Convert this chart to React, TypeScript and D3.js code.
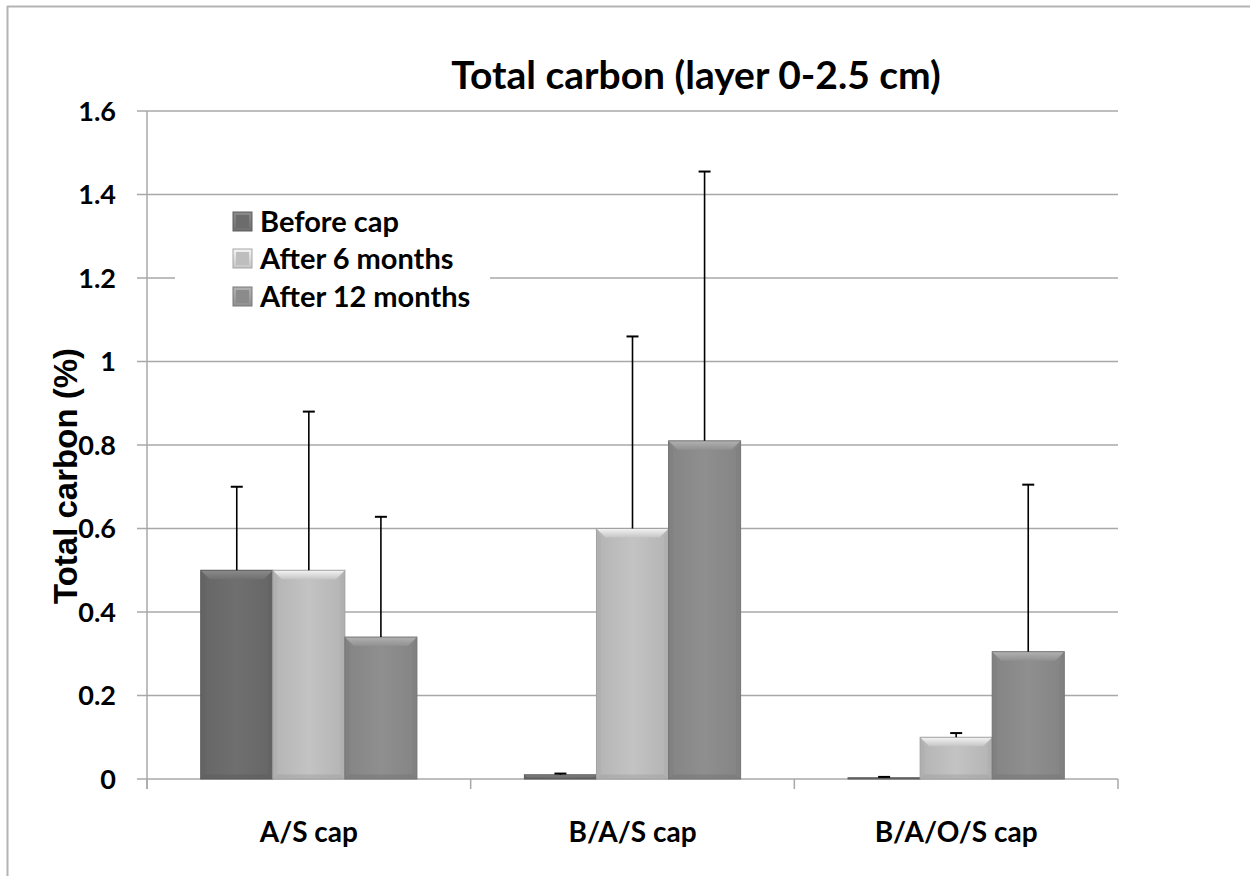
import React from "react";
import * as d3 from "d3";

const categories = ["A/S cap", "B/A/S cap", "B/A/O/S cap"];
const seriesNames = ["Before cap", "After 6 months", "After 12 months"];
const beforeCap = [0.5, 0.01, 0.003];
const after6 = [0.5, 0.6, 0.1];
const after12 = [0.34, 0.81, 0.305];
const errBefore = [0.2, 0.003, 0.002];
const errAfter6 = [0.38, 0.46, 0.01];
const errAfter12 = [0.288, 0.645, 0.4];
const yTicks = [0, 0.2, 0.4, 0.6, 0.8, 1, 1.2, 1.4, 1.6];
const seriesColors = ["#6c6c6c", "#bebebe", "#8b8b8b"];

const W = 1254;
const H = 876;
const left = 147;
const right = 1118;
const top = 111;
const bottom = 779;

export default function App() {
  const values = [beforeCap, after6, after12];
  const errs = [errBefore, errAfter6, errAfter12];
  const y = d3.scaleLinear().domain([0, 1.6]).range([bottom, top]);
  const x0 = d3.scaleBand<string>().domain(categories).range([left, right]).padding(0);
  const bw = x0.bandwidth();
  const x1 = d3
    .scaleBand<string>()
    .domain(seriesNames)
    .range([bw * 0.166, bw * 0.834])
    .padding(0);
  const barW = x1.bandwidth();
  const gridColor = "#a8a8a8";
  const font = "Lato, 'Open Sans', sans-serif";

  const bars: React.ReactNode[] = [];
  const errBars: React.ReactNode[] = [];
  categories.forEach((c, ci) => {
    seriesNames.forEach((s, si) => {
      const v = values[si][ci];
      const e = errs[si][ci];
      const bx = (x0(c) as number) + (x1(s) as number);
      const by = y(v);
      const bh = bottom - by;
      const base = d3.color(seriesColors[si])!;
      const dark = base.darker(0.25).formatHex();
      const darker = base.darker(0.45).formatHex();
      const b = Math.min(9, bh / 2);
      const x2 = bx + barW;
      bars.push(
        <g key={`b-${ci}-${si}`}>
          <rect x={bx} y={by} width={barW} height={bh} fill={`url(#grad${si})`} />
          {bh > 2 && (
            <>
              <polygon
                points={`${bx},${by} ${x2},${by} ${x2 - b},${by + b} ${bx + b},${by + b}`}
                fill={`url(#top${si})`}
              />
              <polygon
                points={`${bx},${by} ${bx + b * 0.5},${by + b} ${bx + b * 0.5},${bottom - b * 0.5} ${bx},${bottom}`}
                fill={dark}
                opacity={0.6}
              />
              <polygon
                points={`${x2},${by} ${x2 - b * 0.5},${by + b} ${x2 - b * 0.5},${bottom - b * 0.5} ${x2},${bottom}`}
                fill={dark}
                opacity={0.6}
              />
              <polygon
                points={`${bx},${bottom} ${x2},${bottom} ${x2 - b * 0.5},${bottom - b * 0.5} ${bx + b * 0.5},${bottom - b * 0.5}`}
                fill={darker}
                opacity={0.5}
              />
            </>
          )}
          <rect x={bx} y={by} width={barW} height={bh} fill="none" stroke={darker} strokeWidth={1} />
        </g>
      );
      const cx = bx + barW / 2;
      const ey = y(v + e);
      errBars.push(
        <g key={`e-${ci}-${si}`} stroke="#000" strokeWidth={1.6}>
          <line x1={cx} x2={cx} y1={by} y2={ey} />
          <line x1={cx - 6} x2={cx + 6} y1={ey} y2={ey} strokeWidth={2} />
        </g>
      );
    });
  });

  const legX = 233;
  const legY = [212, 249, 287];

  return (
    <svg width={W} height={H} style={{ position: "absolute", left: 0, top: 0 }}>
      <defs>
        {seriesColors.map((c, i) => {
          const base = d3.color(c)!;
          return (
            <linearGradient id={`grad${i}`} key={`g${i}`} x1="0" x2="1" y1="0" y2="0">
              <stop offset="0%" stopColor={base.darker(0.15).formatHex()} />
              <stop offset="50%" stopColor={base.brighter(0.08).formatHex()} />
              <stop offset="100%" stopColor={base.darker(0.15).formatHex()} />
            </linearGradient>
          );
        })}
        {seriesColors.map((c, i) => {
          const base = d3.color(c)!;
          return (
            <linearGradient id={`top${i}`} key={`t${i}`} x1="0" x2="0" y1="0" y2="1">
              <stop offset="0%" stopColor={base.brighter(0.7).formatHex()} />
              <stop offset="100%" stopColor={base.brighter(0.1).formatHex()} />
            </linearGradient>
          );
        })}
      </defs>
      <rect x={0} y={0} width={W} height={H} fill="#fff" />
      <line x1={7.5} x2={7.5} y1={6} y2={H} stroke="#b4b4b4" strokeWidth={2} />
      <line x1={7} x2={1250} y1={6.5} y2={6.5} stroke="#b4b4b4" strokeWidth={2} />

      {yTicks.map((t) => (
        <line
          key={`g${t}`}
          x1={left - 10}
          x2={right}
          y1={y(t)}
          y2={y(t)}
          stroke={gridColor}
          strokeWidth={1.5}
        />
      ))}
      <line x1={left} x2={left} y1={top} y2={bottom + 10} stroke={gridColor} strokeWidth={1.5} />
      {[...categories.map((c) => x0(c) as number), right].map((xv, i) => (
        <line key={`xt${i}`} x1={xv} x2={xv} y1={bottom} y2={bottom + 10} stroke={gridColor} strokeWidth={1.5} />
      ))}

      <rect x={175} y={202} width={315} height={116} fill="#fff" />

      {bars}
      {errBars}

      {yTicks.map((t) => (
        <text
          key={`yl${t}`}
          x={116}
          y={y(t)}
          dy="0.36em"
          textAnchor="end"
          fontFamily={font}
          fontWeight="bold"
          fontSize={27}
          fill="#000"
        >
          {d3.format("~g")(t)}
        </text>
      ))}

      {categories.map((c) => (
        <text
          key={`xl${c}`}
          x={(x0(c) as number) + bw / 2}
          y={842}
          textAnchor="middle"
          fontFamily={font}
          fontWeight="bold"
          fontSize={28}
          fill="#000"
        >
          {c}
        </text>
      ))}

      <text
        x={696}
        y={89}
        textAnchor="middle"
        fontFamily={font}
        fontWeight="bold"
        fontSize={39}
        fill="#000"
      >
        Total carbon (layer 0-2.5 cm)
      </text>

      <text
        transform={`translate(77,476) rotate(-90)`}
        textAnchor="middle"
        fontFamily="'Liberation Sans', Arial, sans-serif"
        fontWeight="bold"
        fontSize={33}
        fill="#000"
      >
        Total carbon (%)
      </text>

      {seriesNames.map((s, i) => (
        <g key={`leg${s}`}>
          <rect x={legX} y={legY[i]} width={19} height={19} fill={`url(#top${i})`} />
          <rect x={legX + 3} y={legY[i] + 3} width={13} height={13} fill={seriesColors[i]} />
          <rect x={legX} y={legY[i]} width={19} height={19} fill="none" stroke={d3.color(seriesColors[i])!.darker(0.4).formatHex()} strokeWidth={1} />
          <text
            x={260}
            y={legY[i] + 10}
            dy="0.36em"
            fontFamily={font}
            fontWeight="bold"
            fontSize={29}
            fill="#000"
          >
            {s}
          </text>
        </g>
      ))}
    </svg>
  );
}
